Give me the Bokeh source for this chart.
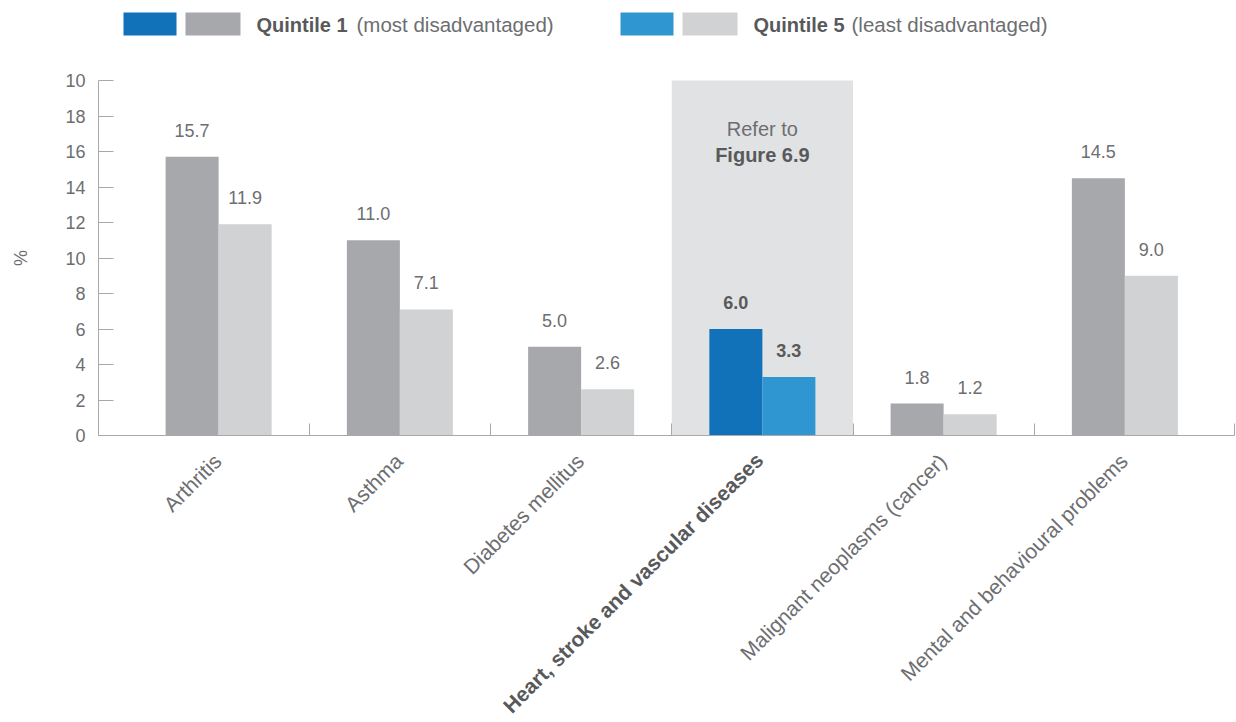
import math
from bokeh.plotting import figure
from bokeh.models import Range1d, FixedTicker, Label, LabelSet, ColumnDataSource, LinearAxis
from bokeh.core.properties import value
from bokeh.embed import file_html
from bokeh.resources import INLINE

# ---- data ----
categories = ["Arthritis", "Asthma", "Diabetes mellitus",
              "Heart, stroke and vascular diseases",
              "Malignant neoplasms (cancer)", "Mental and behavioural problems"]
q1_values = [15.7, 11.0, 5.0, 6.0, 1.8, 14.5]
q5_values = [11.9, 7.1, 2.6, 3.3, 1.2, 9.0]
y_ticks = [0, 2, 4, 6, 8, 10, 12, 14, 16, 18, 20]
y_tick_overrides = {20: "10"}
highlight = "Heart, stroke and vascular diseases"
legend_q1 = ("Quintile 1", "(most disadvantaged)")
legend_q5 = ("Quintile 5", "(least disadvantaged)")

# ---- styles ----
FONT = "Liberation Sans"
TXT = "#6d6e71"
TXT_DARK = "#58595b"
GREY_DARK = "#a7a8ab"
GREY_LIGHT = "#d1d2d4"
BLUE_DARK = "#1172b9"
BLUE_LIGHT = "#3096d2"
SHADE = "#e1e2e4"
AXIS = "#a7a9ac"

W, H = 1236, 722
AXIS_X_PX, AXIS_END_PX = 98, 1234
PLOT_TOP, PLOT_BOTTOM = 80, 435          # pixel rows of y=20 and y=0
GROUP_LEFT_PX, GROUP_W_PX = 127.5, 181.25
YMAX_VAL = 20
ppu = (PLOT_BOTTOM - PLOT_TOP) / YMAX_VAL
Y0 = -(H - PLOT_BOTTOM) / ppu
Y1 = YMAX_VAL + PLOT_TOP / ppu
X0 = -GROUP_LEFT_PX / GROUP_W_PX
X1 = X0 + W / GROUP_W_PX

def px2x(px):
    return X0 + px / GROUP_W_PX
def py2y(py):
    return (PLOT_BOTTOM - py) / ppu

p = figure(width=W, height=H, output_backend="svg", toolbar_location=None,
           x_range=Range1d(X0, X1), y_range=Range1d(Y0, Y1),
           x_axis_location=None, y_axis_location=None,
           min_border_left=0, min_border_right=0, min_border_top=0, min_border_bottom=0)
p.grid.visible = False
p.outline_line_color = None

n = len(categories)
bw = 0.2925
hi = categories.index(highlight)

# shaded highlight column
p.quad(left=[hi], right=[hi + 1], bottom=[0], top=[YMAX_VAL], fill_color=SHADE, line_color=None)

centers = [i + 0.5 for i in range(n)]
styles = ["bold" if c == highlight else "normal" for c in categories]
vcolors = [TXT_DARK if c == highlight else TXT for c in categories]
q1_colors = [BLUE_DARK if c == highlight else GREY_DARK for c in categories]
q5_colors = [BLUE_LIGHT if c == highlight else GREY_LIGHT for c in categories]
src1 = ColumnDataSource(dict(x=[c - bw / 2 for c in centers], top=q1_values, color=q1_colors,
                             t=["%.1f" % v for v in q1_values], style=styles, tc=vcolors))
src5 = ColumnDataSource(dict(x=[c + bw / 2 for c in centers], top=q5_values, color=q5_colors,
                             t=["%.1f" % v for v in q5_values], style=styles, tc=vcolors))
p.vbar(x="x", top="top", bottom=0, width=bw, fill_color="color", line_color=None, source=src1)
p.vbar(x="x", top="top", bottom=0, width=bw, fill_color="color", line_color=None, source=src5)

for src in (src1, src5):
    p.add_layout(LabelSet(x="x", y="top", text="t", source=src, text_align="center",
                          text_baseline="alphabetic", y_offset=20, text_font=value(FONT),
                          text_font_size=value("18px"), text_color="tc", text_font_style="style"))

# y axis at fixed position
ya = LinearAxis(fixed_location=px2x(AXIS_X_PX), bounds=(0, YMAX_VAL),
                ticker=FixedTicker(ticks=y_ticks), major_label_overrides=y_tick_overrides,
                major_tick_in=15, major_tick_out=0, minor_tick_line_color=None,
                axis_line_color=AXIS, major_tick_line_color=AXIS, major_label_standoff=13,
                major_label_text_font=FONT, major_label_text_font_size="18px",
                major_label_text_color=TXT)
p.add_layout(ya, "left")

# x axis drawn at y = 0, group separators as ticks
xa = LinearAxis(fixed_location=0, bounds=(px2x(AXIS_X_PX), px2x(AXIS_END_PX)),
                ticker=FixedTicker(ticks=[], minor_ticks=list(range(1, n)) + [px2x(AXIS_END_PX) - 0.002]),
                major_label_standoff=0, major_tick_in=0, major_tick_out=0,
                minor_tick_in=12, minor_tick_out=0, minor_tick_line_color=AXIS,
                axis_line_color=AXIS, major_label_text_font_size="0px")
p.add_layout(xa, "below")

# y axis title
p.add_layout(Label(x=px2x(20), y=YMAX_VAL / 2, text="%", angle=math.pi / 2, text_align="center",
                   text_baseline="middle", text_font=FONT, text_font_size="18px", text_color=TXT))

# category labels
for i, c in enumerate(categories):
    is_hi = c == highlight
    p.add_layout(Label(x=centers[i], y=0, text=c, angle=math.pi / 4, text_align="right",
                       text_baseline="middle", x_offset=-3 if is_hi else -1,
                       y_offset=-21 if is_hi else -22,
                       text_font=FONT, text_font_size="21px",
                       text_color=TXT_DARK if is_hi else TXT,
                       text_font_style="bold" if is_hi else "normal"))

# Refer to note
p.add_layout(Label(x=hi + 0.5, y=YMAX_VAL, text="Refer to", text_align="center", text_baseline="alphabetic",
                   y_offset=-48, text_font=FONT, text_font_size="20px", text_color=TXT))
p.add_layout(Label(x=hi + 0.5, y=YMAX_VAL, text="Figure 6.9", text_align="center", text_baseline="alphabetic",
                   y_offset=-74, text_font=FONT, text_font_size="20px", text_color=TXT_DARK,
                   text_font_style="bold"))

# legend
def legend(x_start, c1, c2, words, x_text, x_text2):
    p.quad(left=[px2x(x_start), px2x(x_start + 62)], right=[px2x(x_start + 53), px2x(x_start + 117)],
           top=[py2y(12)] * 2, bottom=[py2y(35)] * 2, fill_color=[c1, c2], line_color=None)
    p.add_layout(Label(x=px2x(x_text), y=py2y(24), text=words[0], text_align="left", text_baseline="middle",
                       text_font=FONT, text_font_size="20px", text_color=TXT_DARK, text_font_style="bold"))
    p.add_layout(Label(x=px2x(x_text2), y=py2y(24), text=words[1], text_align="left", text_baseline="middle",
                       text_font=FONT, text_font_size="20.5px", text_color=TXT))

legend(123, BLUE_DARK, GREY_DARK, legend_q1, 256, 356)
legend(620, BLUE_LIGHT, GREY_LIGHT, legend_q5, 753, 851)

open("out.html", "w").write(file_html(p, INLINE))
